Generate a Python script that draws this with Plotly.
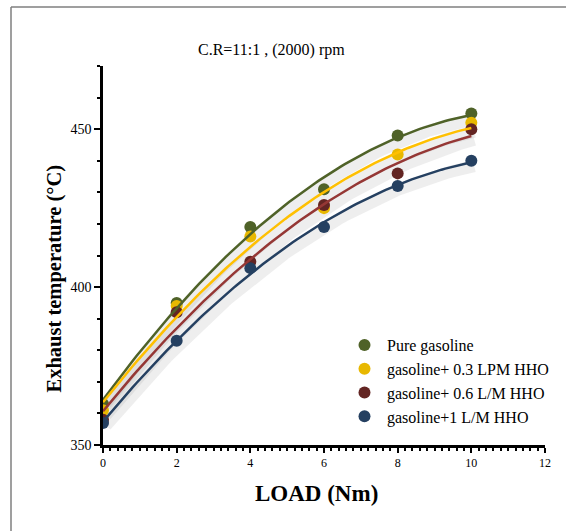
import numpy as np
import plotly.graph_objects as go

# Data
load = [0, 2, 4, 6, 8, 10]
pure_gasoline = [363, 395, 419, 431, 448, 455]
hho_03 = [361, 394, 416, 425, 442, 452]
hho_06 = [358, 392, 408, 426, 436, 450]
hho_1 = [357, 383, 406, 419, 432, 440]

series_names = ["Pure gasoline", "gasoline+ 0.3 LPM HHO", "gasoline+ 0.6 L/M HHO", "gasoline+1 L/M HHO"]
series_values = [pure_gasoline, hho_03, hho_06, hho_1]
marker_colors = ["#4F6228", "#E8B800", "#632523", "#254061"]
line_colors = ["#4F6228", "#FFC000", "#953735", "#254061"]

W, H = 566, 531
ml, mr, mt, mb = 103, 21, 66, 86
pw, ph = W - ml - mr, H - mt - mb

def px_x(p):
    return (p - ml) / pw

def px_y(p):
    return (H - mb - p) / ph

fig = go.Figure()
font_family = "Liberation Serif, Times New Roman, serif"

xs = np.linspace(min(load), max(load), 100)
# trend-line shadows
for vals in series_values:
    coef = np.polyfit(load, vals, 2)
    ys = np.polyval(coef, xs)
    fig.add_trace(go.Scatter(x=xs + 0.08, y=ys - 1.2, mode="lines",
                             line=dict(color="rgba(120,120,120,0.13)", width=12),
                             showlegend=False, hoverinfo="skip"))
# markers
for i, (name, vals) in enumerate(zip(series_names, series_values)):
    fig.add_trace(go.Scatter(x=load, y=vals, mode="markers", name=name,
                             legendgroup=f"g{i}",
                             marker=dict(color=marker_colors[i], size=12)))
# polynomial trend lines
for i, vals in enumerate(series_values):
    coef = np.polyfit(load, vals, 2)
    ys = np.polyval(coef, xs)
    fig.add_trace(go.Scatter(x=xs, y=ys, mode="lines",
                             line=dict(color=line_colors[i], width=2.5),
                             showlegend=False, hoverinfo="skip"))

fig.update_layout(
    width=W, height=H,
    margin=dict(l=ml, r=mr, t=mt, b=mb, autoexpand=False),
    paper_bgcolor="white", plot_bgcolor="white",
    font=dict(family=font_family, color="black", size=12),
    showlegend=True,
    legend=dict(x=px_x(342), y=px_y(328), xanchor="left", yanchor="top",
                font=dict(size=16, family=font_family), bgcolor="rgba(0,0,0,0)",
                tracegroupgap=0, itemwidth=35),
    xaxis=dict(range=[0, 12], dtick=2, showgrid=False, zeroline=False,
               showline=True, linecolor="black", linewidth=2.5,
               ticks="outside", ticklen=5, tickwidth=2, tickcolor="black",
               tickfont=dict(size=12),
               minor=dict(dtick=0.2, ticks="outside", ticklen=3, tickwidth=1.5, tickcolor="black")),
    yaxis=dict(range=[350, 470], dtick=50, showgrid=False, zeroline=False,
               showline=True, linecolor="black", linewidth=2.5,
               ticks="outside", ticklen=6, tickwidth=2, tickcolor="black",
               tickfont=dict(size=14),
               minor=dict(dtick=10, ticks="outside", ticklen=3, tickwidth=1.5, tickcolor="black")),
    annotations=[
        dict(text="C.R=11:1 , (2000) rpm", x=px_x(271), y=px_y(39), xref="paper", yref="paper",
             showarrow=False, font=dict(size=16, family=font_family)),
        dict(text="<b>LOAD (Nm)</b>", x=px_x(316), y=px_y(508), xref="paper", yref="paper",
             showarrow=False, font=dict(size=23, family=font_family)),
        dict(text="<b>Exhaust temperature (°C)</b>", x=px_x(40), y=px_y(279), xref="paper", yref="paper",
             showarrow=False, textangle=-90, font=dict(size=20.5, family=font_family)),
    ],
    shapes=[
        dict(type="line", xref="paper", yref="paper", x0=px_x(11), x1=px_x(11),
             y0=px_y(7), y1=px_y(560), line=dict(color="#7f7f7f", width=1.5)),
        dict(type="line", xref="paper", yref="paper", x0=px_x(11), x1=px_x(600),
             y0=px_y(7), y1=px_y(7), line=dict(color="#7f7f7f", width=1.5)),
    ],
)

fig.write_html("out.html")
